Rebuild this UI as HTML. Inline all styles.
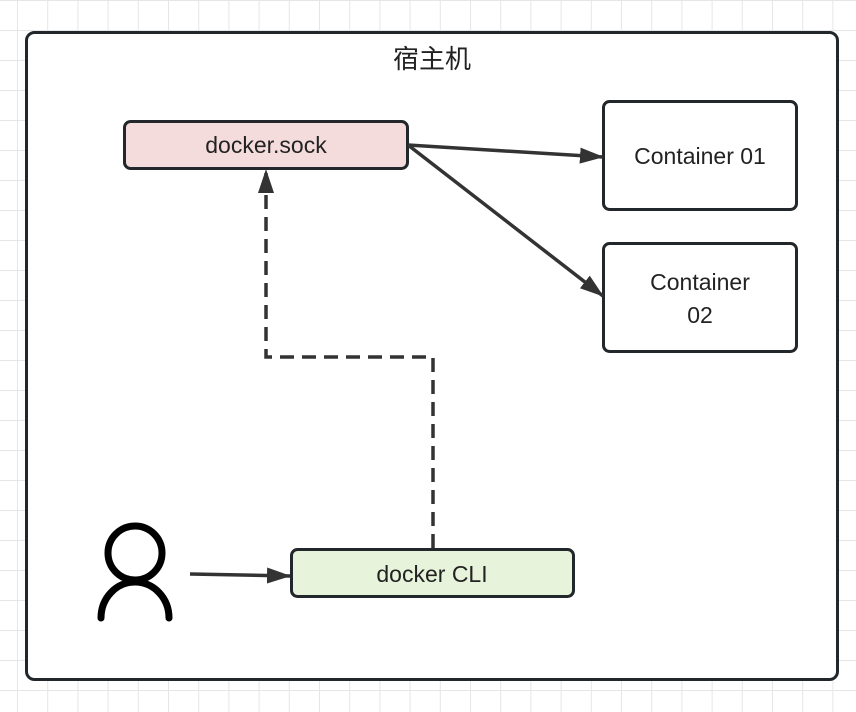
<!DOCTYPE html>
<html><head><meta charset="utf-8"><style>
html,body{margin:0;padding:0;background:#fff}
svg{display:block}
text{font-family:"Liberation Sans","Noto Sans CJK SC",sans-serif;fill:#222}
</style></head><body>
<svg width="856" height="712" viewBox="0 0 856 712" xmlns="http://www.w3.org/2000/svg">
<defs>
<pattern id="g" x="17" y="0" width="30.2" height="30" patternUnits="userSpaceOnUse">
<path d="M0 0V30M0 0H30.2" stroke="#e6e6e6" stroke-width="2" fill="none"/>
</pattern>
<marker id="b" viewBox="0 0 24 20" refX="23" refY="10" markerWidth="24" markerHeight="20" orient="auto" markerUnits="userSpaceOnUse">
<path d="M0 2L24 10L0 18Z" fill="#333"/>
</marker>
</defs>
<rect width="856" height="712" fill="url(#g)"/>
<rect x="26.5" y="32.5" width="811" height="647" rx="8" fill="#fff" stroke="#22272b" stroke-width="3"/>
<text x="432" y="68" font-size="26" text-anchor="middle">宿主机</text>
<rect x="124.5" y="121.5" width="283" height="47" rx="6" fill="#f5dcdc" stroke="#22272b" stroke-width="3"/>
<text x="266" y="153" font-size="23" text-anchor="middle">docker.sock</text>
<rect x="603.5" y="101.5" width="193" height="108" rx="6" fill="#fff" stroke="#22272b" stroke-width="3"/>
<text x="700" y="164" font-size="23" text-anchor="middle">Container 01</text>
<rect x="603.5" y="243.5" width="193" height="108" rx="6" fill="#fff" stroke="#22272b" stroke-width="3"/>
<text x="700" y="290" font-size="23" text-anchor="middle">Container</text>
<text x="700" y="323" font-size="23" text-anchor="middle">02</text>
<rect x="291.5" y="549.5" width="282" height="47" rx="6" fill="#e7f4db" stroke="#22272b" stroke-width="3"/>
<text x="432" y="582" font-size="23" text-anchor="middle">docker CLI</text>
<line x1="408" y1="145" x2="603" y2="157" stroke="#333" stroke-width="3.5" marker-end="url(#b)"/>
<line x1="408" y1="145" x2="603" y2="296" stroke="#333" stroke-width="3.5" marker-end="url(#b)"/>
<polyline points="433,548 433,357 266,357 266,170" fill="none" stroke="#333" stroke-width="3.5" stroke-dasharray="14,8" marker-end="url(#b)"/>
<line x1="190" y1="574" x2="290" y2="576" stroke="#333" stroke-width="3.5" marker-end="url(#b)"/>
<circle cx="135" cy="553" r="27" fill="none" stroke="#000" stroke-width="7"/>
<path d="M101 618 A34 36 0 0 1 169 618" fill="none" stroke="#000" stroke-width="7" stroke-linecap="round"/>
</svg>
</body></html>
